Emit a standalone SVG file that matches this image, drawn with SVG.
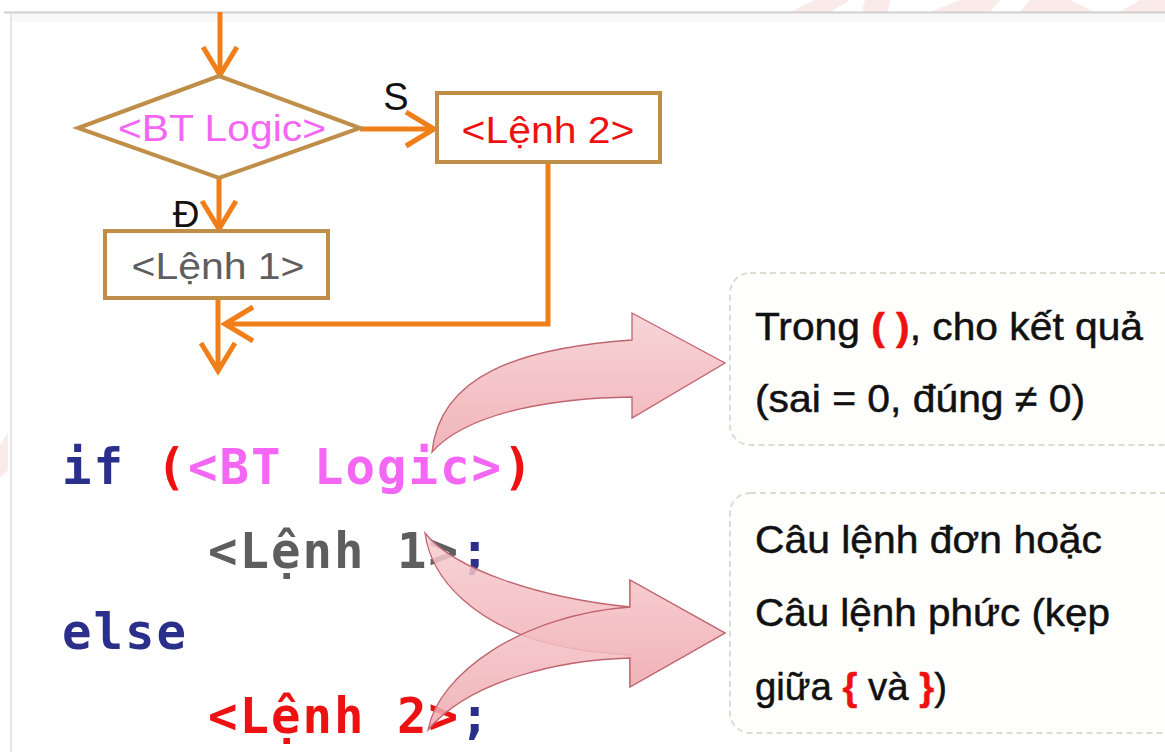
<svg xmlns="http://www.w3.org/2000/svg" width="1165" height="752" viewBox="0 0 1165 752">
  <defs>
    <style>
      .flow { fill: none; stroke: #F07F1A; stroke-width: 5; }
      .box { fill: #FFFFFF; stroke: #BF8E48; stroke-width: 4; }
      .lbl { font-family: "Liberation Sans", Arial, sans-serif; text-anchor: middle; }
      .code { font-family: "DejaVu Sans Mono", "Liberation Mono", monospace; font-weight: bold; font-size: 49px; letter-spacing: 2px; }
      .note { font-family: "Liberation Sans", Arial, sans-serif; font-size: 39px; fill: #111111; stroke: #111111; stroke-width: 0.5px; }
      .callout { fill: #FEFEFC; stroke: #D9DECF; stroke-width: 2; stroke-dasharray: 6 4; }
      .pink { fill: url(#pinkGrad); fill-opacity: 0.85; stroke: #C0646F; stroke-width: 1.3; }
      .navy { fill: #2B2F8C; }
      .red { fill: #EE1111; }
      .mag { fill: #F466F4; }
      .gray { fill: #5E5E5E; }
    </style>
    <marker id="chev" markerUnits="userSpaceOnUse" markerWidth="36" markerHeight="40" refX="31" refY="19" orient="auto">
      <path d="M3,2 L31,19 L3,36" fill="none" stroke="#F07F1A" stroke-width="5"/>
    </marker>
    <linearGradient id="pinkGrad" x1="0" y1="0" x2="0" y2="1">
      <stop offset="0" stop-color="#F7CDD0"/>
      <stop offset="1" stop-color="#EEA8AE"/>
    </linearGradient>
  </defs>

  <!-- background -->
  <rect x="0" y="0" width="1165" height="752" fill="#FFFFFF"/>
  <g id="backdrop" opacity="0.55">
    <path d="M790,12 L815,0 L850,0 L830,12 Z" fill="#F6DADA"/>
    <path d="M862,12 L865,0 L890,0 L888,12 Z" fill="#F6DADA"/>
    <path d="M930,12 L960,0 L1000,0 L990,12 Z" fill="#F6DADA"/>
    <path d="M1020,12 L1030,0 L1070,0 L1095,12 Z" fill="#F6DADA"/>
    <path d="M1120,12 L1140,0 L1165,0 L1165,12 Z" fill="#F6DADA"/>
    <path d="M0,445 L8,432 L8,470 L0,478 Z" fill="#F6DADA"/>
    <path d="M1110,748 C1130,735 1150,728 1165,724" fill="none" stroke="#CFE8CF" stroke-width="2"/>
    <path d="M1100,752 C1125,740 1148,733 1165,730" fill="none" stroke="#CFE8CF" stroke-width="2"/>
    <path d="M1130,752 C1145,745 1155,740 1165,737" fill="none" stroke="#CFE8CF" stroke-width="2"/>
  </g>
  <rect x="10" y="13" width="1155" height="739" fill="#FFFFFF"/>
  <line x1="4" y1="12.5" x2="1165" y2="12.5" stroke="#CFCFCF" stroke-width="2"/>
  <line x1="10" y1="18" x2="1165" y2="18" stroke="#F4F4F4" stroke-width="8" opacity="0.6"/>
  <line x1="11" y1="13" x2="11" y2="752" stroke="#E6E6E6" stroke-width="2"/>

  <!-- connectors -->
  <g id="connectors">
    <path class="flow" d="M220,12 L220,75" marker-end="url(#chev)"/>
    <path class="flow" d="M360,129 L434,129" marker-end="url(#chev)"/>
    <path class="flow" d="M219,178 L219,229" marker-end="url(#chev)"/>
    <path class="flow" d="M218,298 L218,371" marker-end="url(#chev)"/>
    <path class="flow" d="M548,163 L548,324 L225,324" marker-end="url(#chev)"/>
    <text class="lbl" x="396" y="110" font-size="38" fill="#111111">S</text>
    <text class="lbl" x="186" y="227" font-size="37" fill="#111111">Đ</text>
  </g>

  <!-- flowchart nodes -->
  <g id="decision">
    <polygon class="box" points="219,76 360,128 219,178 78,128"/>
    <text class="lbl mag" x="222" y="141" font-size="36" textLength="208" lengthAdjust="spacingAndGlyphs">&lt;BT Logic&gt;</text>
  </g>
  <g id="lenh2-box">
    <rect class="box" x="437" y="93" width="223" height="69"/>
    <text class="lbl red" x="548" y="143" font-size="36" textLength="173" lengthAdjust="spacingAndGlyphs">&lt;Lệnh 2&gt;</text>
  </g>
  <g id="lenh1-box">
    <rect class="box" x="105" y="231" width="223" height="67"/>
    <text class="lbl gray" x="218" y="279" font-size="36" textLength="173" lengthAdjust="spacingAndGlyphs">&lt;Lệnh 1&gt;</text>
  </g>

  <!-- code -->
  <g id="code">
    <text class="code" x="62" y="484"><tspan class="navy">if </tspan><tspan class="red">(</tspan><tspan class="mag">&lt;BT Logic&gt;</tspan><tspan class="red">)</tspan></text>
    <text class="code" x="208" y="568"><tspan class="gray">&lt;Lệnh 1&gt;</tspan><tspan class="navy">;</tspan></text>
    <text class="code navy" x="62" y="649">else</text>
    <text class="code" x="208" y="733"><tspan class="red">&lt;Lệnh 2&gt;</tspan><tspan class="navy">;</tspan></text>
  </g>

  <!-- callouts -->
  <g id="note-condition">
    <rect class="callout" x="730" y="273" width="470" height="172" rx="20"/>
    <text class="note" x="755" y="340" textLength="388" lengthAdjust="spacingAndGlyphs">Trong <tspan class="red" font-weight="bold" stroke="#EE1111">( )</tspan>, cho kết quả</text>
    <text class="note" x="755" y="412" textLength="330" lengthAdjust="spacingAndGlyphs">(sai = 0, đúng ≠ 0)</text>
  </g>
  <g id="note-statement">
    <rect class="callout" x="730" y="493" width="470" height="240" rx="20"/>
    <text class="note" x="755" y="553" textLength="347" lengthAdjust="spacingAndGlyphs">Câu lệnh đơn hoặc</text>
    <text class="note" x="755" y="626" textLength="355" lengthAdjust="spacingAndGlyphs">Câu lệnh phức (kẹp</text>
    <text class="note" x="755" y="700" textLength="192" lengthAdjust="spacingAndGlyphs">giữa <tspan class="red" font-weight="bold" stroke="#EE1111">{</tspan> và <tspan class="red" font-weight="bold" stroke="#EE1111">}</tspan>)</text>
  </g>

  <!-- curved block arrows -->
  <g id="pointer-arrows">
    <path class="pink" d="M432,452 C440,375 520,348 632,340 L632,313 L725,363 L632,418 L632,397 C560,398 470,410 432,452 Z"/>
    <path class="pink" d="M425,533 C455,570 540,598 630,607 L630,580 L725,633 L630,687 L630,655 C590,652 560,648 530,638 C480,620 432,585 425,533 Z"/>
    <path class="pink" d="M428,730 C438,675 520,615 630,607 L630,580 L725,633 L630,687 L630,658 C560,660 470,680 428,730 Z"/>
  </g>
</svg>
